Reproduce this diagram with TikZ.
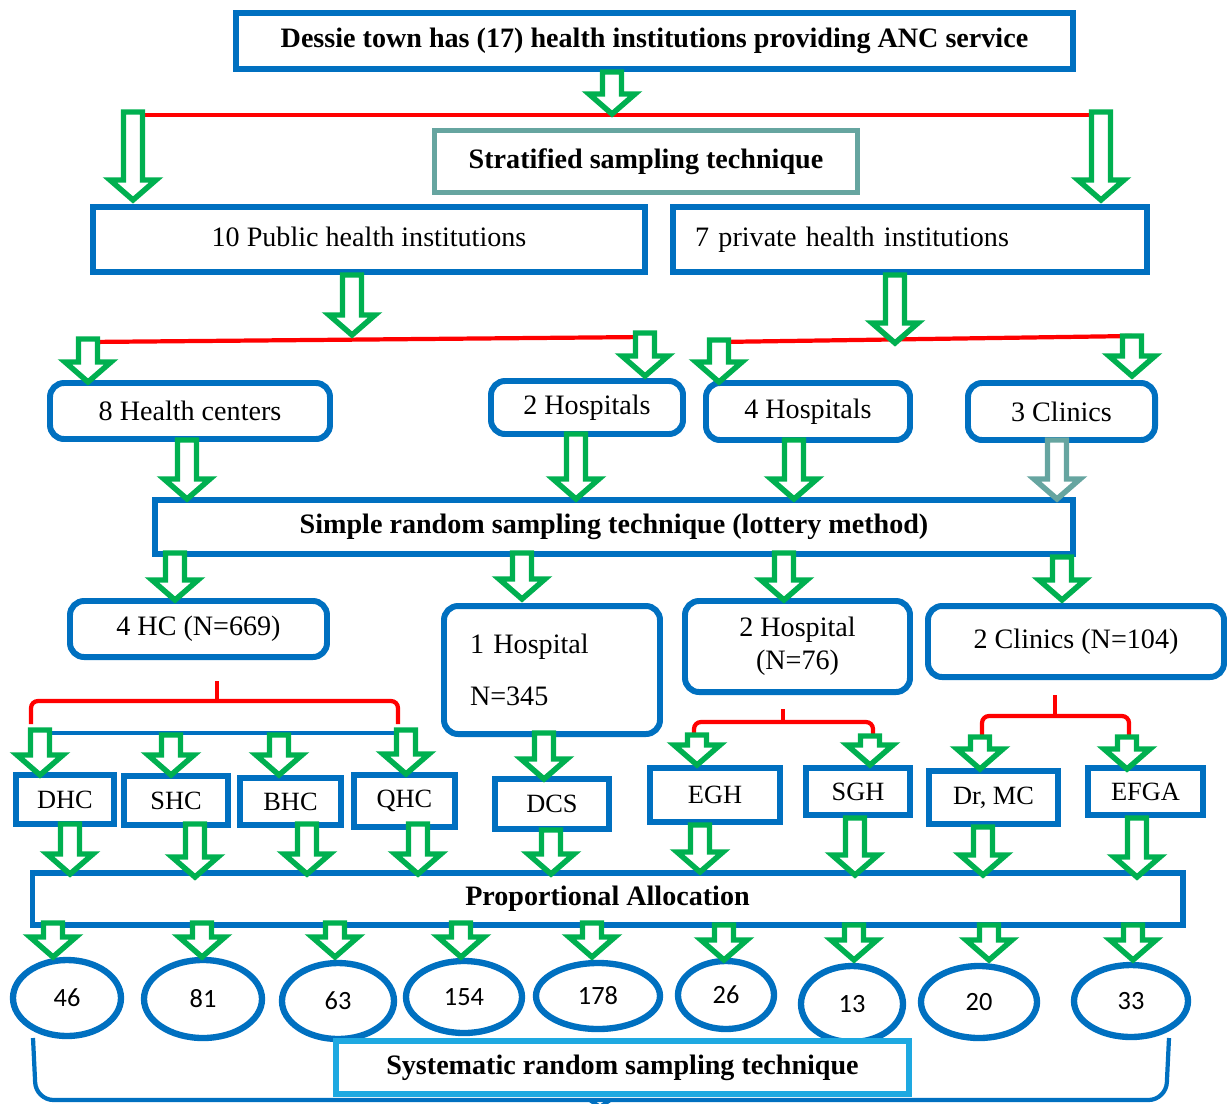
\documentclass[tikz,border=0pt]{standalone}
\usepackage{fontspec}
\setmainfont{Liberation Serif}
\newfontfamily\numfont{Carlito}
\usetikzlibrary{shapes.geometric}
\definecolor{boxblue}{HTML}{0070C0}
\definecolor{arrowgreen}{HTML}{00B050}
\definecolor{stratteal}{HTML}{66A5A0}
\definecolor{sysblue}{HTML}{1EA9E1}

\newcommand{\hollowarrow}[4][arrowgreen]{%
    \draw[line width=3.1pt, draw=#1, fill=white, line join=miter]
        (#2-9.5,#3) -- (#2+9.5,#3) -- (#2+9.5,#4-23) -- (#2+23,#4-23)
        -- (#2,#4-3) -- (#2-23,#4-23) -- (#2-9.5,#4-23) -- cycle;
}

\begin{document}
\begin{tikzpicture}[x=0.02cm, y=-0.02cm,
        box/.style 2 args={draw=boxblue, line width=3.4pt, fill=white, inner sep=0pt,
            minimum width=#1*0.02cm, minimum height=#2*0.02cm, font=\fontsize{16}{19}\selectfont},
        roundbox/.style 2 args={box={#1}{#2}, rounded corners=8pt},
        smallbox/.style 2 args={box={#1}{#2}, font=\fontsize{15}{18}\selectfont},
        boldbox/.style 2 args={box={#1}{#2}, font=\fontsize{16}{19}\selectfont\bfseries},
        numoval/.style 2 args={ellipse, draw=boxblue, line width=3.6pt, fill=white, inner sep=0pt,
            minimum width=#1*0.02cm, minimum height=#2*0.02cm, font=\numfont\fontsize{15}{18}\selectfont},
        redline/.style={draw=red, line width=2.4pt}]
        \useasboundingbox (0,0) rectangle (1227,1103);

        \node[boldbox={837}{56}] (dessie) at (654.5,41) {Dessie town has (17) health institutions providing ANC service};
        \node[boldbox={423}{62}, draw=stratteal, line width=3.2pt] (strat) at (646,161.5) {Stratified sampling technique};
        \node[box={552}{65}] (public) at (369,239.5) {\raisebox{3pt}{10 Public health institutions}};
        \node[box={474}{65}, text width=8.6cm, align=left] (private) at (910,239.5) {\raisebox{2pt}{7 private health institutions}};

        \node[roundbox={280}{56}] (hcenters) at (190,411) {8 Health centers};
        \node[roundbox={192}{53}] (hospA) at (587,407.5) {\raisebox{-3pt}{2 Hospitals}};
        \node[roundbox={204}{57}] (hospB) at (808,411.5) {4 Hospitals};
        \node[roundbox={187}{57}] (clinics) at (1061.5,411.5) {3 Clinics};

        \node[boldbox={918}{54}] (simple) at (614,527) {Simple random sampling technique (lottery method)};

        \node[roundbox={257}{56}] (hcfour) at (198.5,629) {\raisebox{-2pt}{4 HC (N=669)}};
        \node[roundbox={216}{128}, text width=3.28cm, align=left] (hospone) at (552,670) {1 Hospital\\[11pt]N=345};
        \node[roundbox={225}{91}, align=center] (hosptwo) at (797.5,646.5) {2 Hospital\\(N=76)};
        \node[roundbox={296}{71}] (clintwo) at (1076,641.5) {2 Clinics (N=104)};

        \foreach \n/\x/\y/\w/\h/\t in {dhc/65/799.5/98/49/DHC, shc/176/800.5/104/49/SHC,
                bhc/290.5/801.5/101/47/BHC, qhc/404.5/801/101/52/QHC, dcs/552/804/114/50/DCS,
                egh/715/795/130/54/EGH, sgh/858/791.5/104/47/SGH, drmc/993.5/797.5/129/53/{Dr, MC},
                efga/1145.5/791.5/115/47/EFGA} {
            \node[smallbox={\w}{\h}] (\n) at (\x,\y) {\t};
        }

        \node[boldbox={1150}{52}] (propalloc) at (607.5,899) {Proportional Allocation};

        \foreach \n/\x/\y/\w/\h in {46/67/998/108/76, 81/203/999/118/78, 63/338/1001/112/76,
                154/464/997/116/72, 178/598/996/124/66, 26/726/995/96/68,
                13/852/1004/102/76, 20/979/1002/116/72, 33/1131/1001/114/72} {
            \node[numoval={\w}{\h}] (n\n) at (\x,\y) {\n};
        }

        \draw[draw=boxblue, line width=2.4pt, rounded corners=10pt] (33,1038) -- (36,1100) -- (1166,1100) -- (1169,1038);
        \draw[draw=boxblue, line width=2.4pt] (590,1100) -- (600,1107) -- (610,1100);
        \node[boldbox={573}{53}, draw=sysblue, line width=3pt] (systematic) at (622.5,1067.5) {Systematic random sampling technique};

        \draw[redline] (133,115) -- (1101,115);
        \draw[redline] (88,342) -- (645,337);
        \draw[redline] (718,342) -- (1132,336);

        \draw[redline, rounded corners=4pt] (31,724) -- (31,701) -- (398,701) -- (398,724);
        \draw[redline] (217,701) -- (217,681);
        \draw[redline, rounded corners=4pt] (694,735) -- (694,722) -- (873,722) -- (873,735);
        \draw[redline] (783,722) -- (783,709);
        \draw[redline, rounded corners=4pt] (982,737) -- (982,716) -- (1129,716) -- (1129,737);
        \draw[redline] (1055,716) -- (1055,695);
        \draw[draw=boxblue, line width=2.4pt] (34,733) -- (395,733);

        \foreach \x/\ya/\yb in {612/72/117, 133/112/203, 1101/112/203, 352/275/338, 895/275/346,
                88/339/385, 645/333/379, 719/340/385, 1132/336/379,
                187/440/502, 576/434/502, 794/440/502,
                175/553/603, 522/553/602, 784/553/603, 1062/557/603} {
            \hollowarrow{\x}{\ya}{\yb}
        }
        \hollowarrow[stratteal]{1057}{440}{502}

        \foreach \x/\ya/\yb in {40/730/778, 171/735/778, 279/735/778, 406/730/777, 544/733/782,
                697/735/768, 870/736/768, 980/737/772, 1127/737/772} {
            \hollowarrow{\x}{\ya}{\yb}
        }
        \foreach \x/\ya/\yb in {70/824/877, 195/824/880, 307/824/877, 418/824/877, 551/830/877,
                700/825/875, 855/818/878, 983/827/878, 1137/818/880} {
            \hollowarrow{\x}{\ya}{\yb}
        }
        \foreach \x/\ya/\yb in {53/923/960, 202/923/960, 335/923/960, 461/923/960, 592/923/960,
                724/925/963, 854/925/963, 989/925/963, 1133/925/963} {
            \hollowarrow{\x}{\ya}{\yb}
        }
    \end{tikzpicture}
\end{document}
